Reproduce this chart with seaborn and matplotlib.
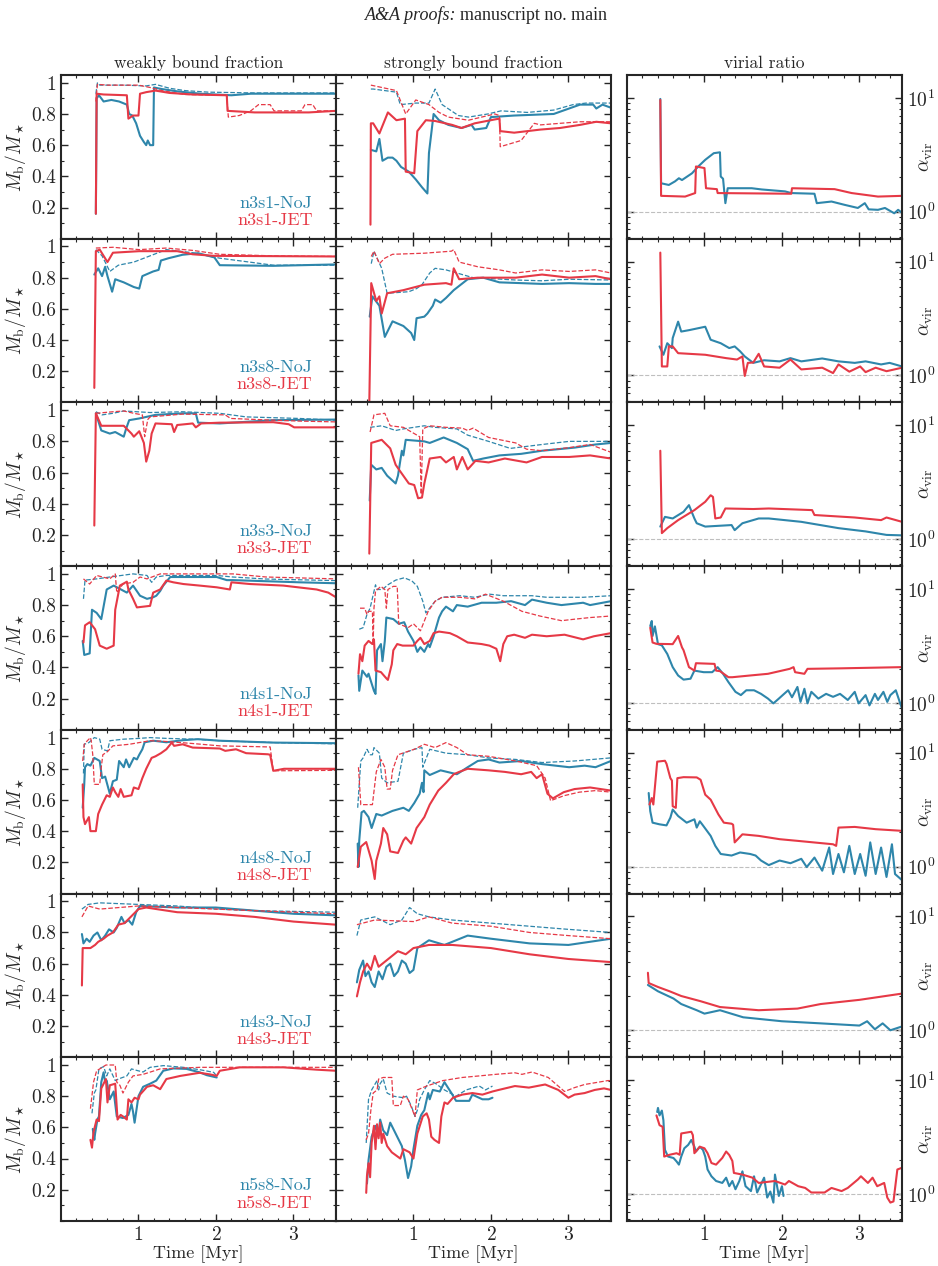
import matplotlib
matplotlib.use("Agg")
import matplotlib.pyplot as plt
import seaborn as sns
from matplotlib.ticker import MultipleLocator, FixedLocator, FixedFormatter, NullFormatter, LogLocator

# ==============================================================================
# DATA  (time [Myr], value)
# solid = bound fraction, _d = dashed companion curve
# ==============================================================================
runs = ["n3s1", "n3s8", "n3s3", "n4s1", "n4s8", "n4s3", "n5s8"]

# ---- n3s1 ----
n3s1_weak_noj = [(0.45,0.16),(0.46,0.90),(0.49,0.92),(0.55,0.88),(0.65,0.89),(0.75,0.88),(0.85,0.86),(0.88,0.80),(0.92,0.79),(0.97,0.74),(1.02,0.66),(1.07,0.62),(1.10,0.60),(1.12,0.63),(1.15,0.60),(1.19,0.60),(1.20,0.97),(1.3,0.96),(1.5,0.945),(1.8,0.93),(2.0,0.925),(2.2,0.92),(2.45,0.93),(3.0,0.93),(3.55,0.93)]
n3s1_weak_noj_d = [(0.45,0.93),(0.47,1.0),(0.5,0.985),(0.8,0.985),(1.1,0.98),(1.22,0.99),(1.4,0.965),(1.6,0.95),(1.9,0.94),(2.5,0.935),(3.55,0.935)]
n3s1_weak_jet = [(0.45,0.16),(0.46,0.93),(0.55,0.925),(0.85,0.92),(0.87,0.77),(0.93,0.79),(1.0,0.79),(1.02,0.93),(1.1,0.94),(1.22,0.95),(1.4,0.935),(1.7,0.925),(2.14,0.92),(2.15,0.82),(2.5,0.81),(3.0,0.81),(3.2,0.81),(3.55,0.82)]
n3s1_weak_jet_d = [(0.45,0.88),(0.47,0.99),(0.6,0.985),(1.0,0.985),(1.15,0.97),(1.3,0.95),(1.6,0.925),(2.14,0.92),(2.16,0.78),(2.3,0.79),(2.45,0.82),(2.55,0.86),(2.7,0.86),(2.75,0.82),(3.1,0.82),(3.15,0.86),(3.25,0.86),(3.3,0.82),(3.55,0.82)]
n3s1_strong_noj = [(0.45,0.57),(0.52,0.56),(0.56,0.64),(0.6,0.50),(0.67,0.52),(0.73,0.52),(0.78,0.50),(0.84,0.46),(0.94,0.43),(1.03,0.38),(1.11,0.33),(1.18,0.29),(1.2,0.55),(1.26,0.80),(1.33,0.76),(1.45,0.73),(1.62,0.71),(1.75,0.73),(1.79,0.70),(1.94,0.71),(2.0,0.78),(2.3,0.79),(2.81,0.80),(2.98,0.83),(3.15,0.86),(3.32,0.86),(3.36,0.835),(3.44,0.86),(3.55,0.84)]
n3s1_strong_noj_d = [(0.45,0.96),(0.48,0.96),(0.78,0.94),(0.83,0.86),(1.03,0.87),(1.2,0.87),(1.28,0.96),(1.37,0.86),(1.58,0.79),(1.71,0.78),(1.96,0.80),(2.13,0.82),(2.47,0.81),(2.81,0.825),(3.06,0.86),(3.23,0.87),(3.55,0.87)]
n3s1_strong_jet = [(0.445,0.09),(0.45,0.74),(0.48,0.74),(0.56,0.675),(0.67,0.81),(0.78,0.76),(0.89,0.77),(0.90,0.43),(1.01,0.42),(1.05,0.69),(1.16,0.76),(1.28,0.755),(1.50,0.73),(1.62,0.71),(1.79,0.74),(2.05,0.765),(2.11,0.77),(2.12,0.69),(2.3,0.68),(2.64,0.70),(2.89,0.71),(3.15,0.73),(3.36,0.75),(3.55,0.74)]
n3s1_strong_jet_d = [(0.45,0.985),(0.78,0.95),(0.90,0.80),(1.03,0.89),(1.2,0.86),(1.33,0.81),(1.45,0.78),(1.71,0.76),(2.05,0.80),(2.11,0.79),(2.12,0.59),(2.39,0.63),(2.56,0.74),(2.64,0.73),(2.89,0.74),(3.15,0.75),(3.55,0.75)]
n3s1_avir_noj = [(0.43,9.8),(0.44,1.78),(0.54,1.72),(0.62,1.85),(0.67,1.97),(0.71,1.9),(0.84,2.18),(0.92,2.5),(1.01,2.86),(1.12,3.27),(1.2,3.33),(1.21,2.04),(1.24,1.95),(1.27,1.19),(1.3,1.61),(1.61,1.61),(1.74,1.57),(2.04,1.51),(2.12,1.46),(2.42,1.44),(2.45,1.19),(2.64,1.23),(2.81,1.15),(2.98,1.08),(3.07,1.19),(3.12,1.05),(3.24,1.04),(3.33,1.08),(3.45,0.97),(3.5,1.04),(3.55,0.98)]
n3s1_avir_jet = [(0.43,9.6),(0.44,1.38),(0.75,1.36),(0.88,1.46),(0.89,2.5),(1.0,2.42),(1.02,1.61),(1.16,1.58),(1.17,1.46),(2.12,1.44),(2.13,1.61),(2.68,1.58),(2.9,1.46),(3.24,1.36),(3.55,1.38)]

# ---- n3s8 ----
n3s8_weak_noj = [(0.43,0.82),(0.48,0.86),(0.53,0.81),(0.57,0.87),(0.6,0.81),(0.66,0.71),(0.70,0.79),(0.81,0.77),(0.94,0.74),(1.01,0.73),(1.05,0.81),(1.19,0.84),(1.26,0.85),(1.29,0.91),(1.39,0.925),(1.57,0.947),(1.77,0.957),(1.98,0.93),(2.05,0.88),(2.74,0.876),(3.55,0.885)]
n3s8_weak_noj_d = [(0.45,0.98),(0.53,0.94),(0.63,0.84),(0.74,0.88),(0.94,0.90),(1.15,0.94),(1.36,0.98),(1.7,0.96),(2.05,0.925),(2.74,0.88),(3.55,0.88)]
n3s8_weak_jet = [(0.43,0.093),(0.45,0.97),(0.5,0.98),(0.6,0.90),(0.67,0.96),(1.01,0.97),(1.5,0.97),(1.7,0.95),(1.98,0.94),(3.55,0.936)]
n3s8_weak_jet_d = [(0.45,0.99),(0.67,0.995),(1.01,0.98),(1.36,0.99),(1.7,0.975),(2.05,0.95),(2.74,0.94),(3.55,0.936)]
n3s8_strong_noj = [(0.435,0.55),(0.47,0.68),(0.56,0.62),(0.63,0.42),(0.73,0.52),(0.87,0.49),(0.97,0.445),(1.01,0.40),(1.04,0.54),(1.14,0.55),(1.18,0.57),(1.25,0.62),(1.28,0.66),(1.35,0.64),(1.42,0.67),(1.52,0.72),(1.7,0.79),(1.9,0.80),(2.11,0.77),(2.39,0.765),(2.66,0.76),(3.01,0.765),(3.35,0.76),(3.55,0.76)]
n3s8_strong_noj_d = [(0.455,0.89),(0.49,0.97),(0.59,0.86),(0.66,0.70),(0.94,0.71),(1.04,0.73),(1.11,0.755),(1.21,0.83),(1.28,0.86),(1.42,0.85),(1.56,0.83),(1.77,0.80),(1.97,0.795),(2.32,0.785),(2.66,0.78),(3.01,0.79),(3.55,0.785)]
n3s8_strong_jet = [(0.43,0.0),(0.455,0.765),(0.52,0.65),(0.56,0.68),(0.59,0.57),(0.66,0.70),(0.87,0.72),(1.14,0.755),(1.42,0.765),(1.49,0.755),(1.52,0.86),(1.59,0.79),(1.83,0.80),(2.32,0.80),(2.66,0.82),(3.01,0.80),(3.35,0.81),(3.55,0.79)]
n3s8_strong_jet_d = [(0.455,0.936),(0.49,0.97),(0.56,0.89),(0.63,0.925),(0.73,0.95),(1.14,0.957),(1.49,0.97),(1.52,0.98),(1.59,0.90),(1.83,0.87),(2.11,0.85),(2.32,0.83),(2.66,0.85),(3.01,0.84),(3.35,0.85),(3.55,0.83)]
n3s8_avir_noj = [(0.42,1.8),(0.47,1.52),(0.52,1.92),(0.58,1.74),(0.59,2.13),(0.66,2.97),(0.70,2.43),(0.8,2.5),(1.01,2.68),(1.08,2.06),(1.21,1.92),(1.32,1.74),(1.39,1.8),(1.46,1.63),(1.52,1.47),(1.63,1.29),(1.77,1.36),(1.97,1.33),(2.11,1.42),(2.25,1.33),(2.52,1.41),(2.73,1.33),(2.94,1.29),(3.08,1.33),(3.28,1.25),(3.39,1.29),(3.55,1.2)]
n3s8_avir_jet = [(0.43,12.0),(0.45,1.2),(0.52,1.2),(0.54,1.8),(0.59,1.8),(0.66,1.57),(1.01,1.52),(1.28,1.42),(1.42,1.38),(1.49,1.47),(1.52,0.99),(1.56,1.29),(1.63,1.3),(1.7,1.55),(1.77,1.2),(1.97,1.17),(2.11,1.38),(2.25,1.13),(2.52,1.17),(2.66,1.05),(2.73,1.25),(2.87,1.08),(3.01,1.2),(3.08,1.07),(3.21,1.17),(3.35,1.09),(3.55,1.17)]

# ---- n3s3 ----
n3s3_weak_noj = [(0.45,0.98),(0.52,0.87),(0.63,0.85),(0.70,0.86),(0.81,0.83),(0.84,0.88),(0.88,0.936),(1.01,0.947),(1.22,0.97),(1.57,0.98),(1.74,0.98),(1.77,0.92),(2.05,0.915),(2.74,0.936),(3.55,0.94)]
n3s3_weak_noj_d = [(0.45,0.99),(0.53,0.97),(0.67,0.98),(0.81,0.995),(1.15,0.985),(1.57,0.99),(2.05,0.98),(2.39,0.957),(3.08,0.947),(3.55,0.936)]
n3s3_weak_jet = [(0.43,0.26),(0.45,0.98),(0.52,0.90),(0.81,0.90),(0.91,0.85),(0.94,0.83),(1.01,0.865),(1.07,0.79),(1.1,0.67),(1.14,0.74),(1.17,0.85),(1.22,0.915),(1.43,0.91),(1.46,0.86),(1.5,0.905),(1.7,0.915),(1.74,0.89),(1.81,0.915),(2.05,0.92),(2.74,0.923),(2.94,0.91),(3.01,0.89),(3.55,0.89)]
n3s3_weak_jet_d = [(0.45,0.98),(0.67,0.99),(0.81,0.995),(0.94,0.98),(1.05,0.97),(1.08,0.83),(1.12,0.94),(1.15,0.957),(1.57,0.975),(2.12,0.97),(2.19,0.947),(2.74,0.936),(3.08,0.93),(3.55,0.925)]
n3s3_strong_noj = [(0.435,0.42),(0.455,0.65),(0.52,0.62),(0.59,0.63),(0.66,0.58),(0.77,0.53),(0.8,0.58),(0.85,0.74),(0.87,0.71),(0.90,0.81),(1.14,0.80),(1.21,0.79),(1.39,0.825),(1.56,0.79),(1.7,0.75),(1.77,0.675),(1.9,0.69),(2.11,0.71),(2.39,0.72),(2.66,0.74),(3.08,0.76),(3.35,0.78),(3.55,0.79)]
n3s3_strong_noj_d = [(0.44,0.89),(0.59,0.90),(0.77,0.87),(0.87,0.88),(1.14,0.90),(1.28,0.89),(1.56,0.88),(1.7,0.84),(1.97,0.80),(2.25,0.755),(2.66,0.78),(3.01,0.80),(3.55,0.80)]
n3s3_strong_jet = [(0.43,0.08),(0.455,0.79),(0.59,0.81),(0.70,0.755),(0.77,0.65),(0.84,0.60),(0.94,0.53),(1.01,0.52),(1.06,0.435),(1.11,0.44),(1.14,0.53),(1.21,0.69),(1.35,0.70),(1.42,0.665),(1.52,0.70),(1.56,0.62),(1.63,0.70),(1.7,0.62),(1.8,0.675),(1.97,0.665),(2.18,0.69),(2.46,0.665),(2.66,0.70),(3.01,0.70),(3.28,0.71),(3.55,0.69)]
n3s3_strong_jet_d = [(0.44,0.86),(0.49,0.97),(0.63,0.98),(0.70,0.90),(0.87,0.89),(1.01,0.85),(1.08,0.83),(1.10,0.46),(1.12,0.88),(1.21,0.90),(1.42,0.89),(1.63,0.885),(1.7,0.87),(1.77,0.885),(1.97,0.825),(2.32,0.79),(2.46,0.75),(2.66,0.74),(3.01,0.76),(3.28,0.78),(3.55,0.73)]
n3s3_avir_noj = [(0.43,1.29),(0.49,1.57),(0.59,1.52),(0.73,1.74),(0.80,1.99),(0.87,1.52),(0.90,1.38),(1.01,1.29),(1.35,1.33),(1.39,1.2),(1.49,1.38),(1.7,1.52),(1.83,1.52),(2.25,1.42),(2.73,1.25),(3.08,1.17),(3.35,1.09),(3.55,1.08)]
n3s3_avir_jet = [(0.43,5.98),(0.45,1.13),(0.52,1.25),(0.66,1.47),(0.87,1.8),(1.01,2.13),(1.08,2.43),(1.11,2.35),(1.14,1.52),(1.21,1.55),(1.27,1.86),(1.63,1.84),(1.83,1.86),(2.39,1.8),(2.42,1.63),(2.94,1.55),(3.28,1.47),(3.35,1.55),(3.55,1.42)]

# ---- n4s1 ----
n4s1_weak_noj = [(0.28,0.57),(0.30,0.48),(0.37,0.49),(0.40,0.77),(0.46,0.75),(0.52,0.71),(0.59,0.90),(0.68,0.925),(0.85,0.88),(0.93,0.925),(1.02,0.86),(1.11,0.84),(1.19,0.85),(1.23,0.86),(1.28,0.89),(1.32,0.925),(1.41,0.98),(2.01,0.98),(2.14,0.96),(2.22,0.96),(3.08,0.946),(3.55,0.94)]
n4s1_weak_noj_d = [(0.29,0.84),(0.31,0.96),(0.46,0.968),(0.63,0.98),(0.93,1.0),(1.11,0.99),(1.17,0.946),(1.23,0.98),(1.36,0.99),(2.01,0.99),(2.22,0.98),(2.65,0.967),(3.55,0.957)]
n4s1_weak_jet = [(0.29,0.56),(0.31,0.67),(0.37,0.69),(0.44,0.645),(0.50,0.54),(0.59,0.52),(0.68,0.54),(0.70,0.77),(0.76,0.925),(0.85,0.95),(0.87,0.90),(0.93,0.84),(0.98,0.785),(1.15,0.795),(1.19,0.88),(1.28,0.90),(1.36,0.957),(1.45,0.946),(1.58,0.935),(1.79,0.925),(2.01,0.914),(2.18,0.90),(2.20,0.946),(2.44,0.935),(2.87,0.925),(3.3,0.90),(3.45,0.88),(3.55,0.85)]
n4s1_weak_jet_d = [(0.29,0.968),(0.37,0.935),(0.46,0.99),(0.63,0.968),(0.70,1.0),(0.72,0.88),(0.80,0.935),(0.93,0.946),(1.02,0.98),(1.11,0.968),(1.28,1.0),(2.22,1.0),(2.65,0.98),(3.55,0.968)]
n4s1_strong_noj = [(0.29,0.35),(0.30,0.25),(0.34,0.38),(0.40,0.34),(0.42,0.36),(0.49,0.25),(0.51,0.23),(0.53,0.51),(0.58,0.55),(0.60,0.44),(0.63,0.57),(0.65,0.72),(0.74,0.71),(0.81,0.68),(0.88,0.69),(0.93,0.63),(1.0,0.57),(1.05,0.50),(1.09,0.53),(1.14,0.50),(1.19,0.55),(1.21,0.53),(1.26,0.60),(1.33,0.72),(1.37,0.76),(1.42,0.79),(1.51,0.76),(1.56,0.80),(1.7,0.79),(1.88,0.815),(2.07,0.815),(2.26,0.825),(2.44,0.80),(2.53,0.835),(2.72,0.815),(2.91,0.80),(3.19,0.815),(3.28,0.80),(3.55,0.825)]
n4s1_strong_noj_d = [(0.30,0.645),(0.35,0.655),(0.40,0.74),(0.44,0.78),(0.51,0.93),(0.53,0.90),(0.60,0.90),(0.67,0.93),(0.77,0.96),(0.88,0.975),(0.98,0.955),(1.05,0.92),(1.12,0.825),(1.16,0.75),(1.28,0.825),(1.37,0.85),(1.6,0.86),(1.79,0.85),(1.98,0.87),(2.16,0.86),(2.53,0.86),(2.72,0.85),(3.19,0.85),(3.55,0.86)]
n4s1_strong_jet = [(0.29,0.36),(0.31,0.485),(0.34,0.44),(0.37,0.54),(0.42,0.57),(0.47,0.55),(0.49,0.58),(0.51,0.38),(0.58,0.37),(0.65,0.33),(0.67,0.32),(0.72,0.42),(0.74,0.51),(0.79,0.55),(0.86,0.54),(1.0,0.54),(1.05,0.57),(1.09,0.59),(1.14,0.55),(1.21,0.57),(1.26,0.62),(1.33,0.63),(1.47,0.62),(1.56,0.60),(1.7,0.56),(1.88,0.55),(1.98,0.54),(2.07,0.52),(2.12,0.44),(2.16,0.55),(2.21,0.60),(2.3,0.61),(2.44,0.59),(2.53,0.61),(2.72,0.60),(2.95,0.61),(3.19,0.58),(3.33,0.60),(3.55,0.62)]
n4s1_strong_jet_d = [(0.31,0.78),(0.37,0.78),(0.40,0.74),(0.42,0.76),(0.47,0.76),(0.48,0.55),(0.49,0.78),(0.51,0.89),(0.58,0.92),(0.63,0.90),(0.65,0.78),(0.67,0.90),(0.74,0.92),(0.79,0.92),(0.81,0.68),(0.93,0.655),(1.0,0.68),(1.09,0.635),(1.19,0.76),(1.28,0.825),(1.37,0.85),(1.6,0.85),(1.79,0.84),(1.93,0.87),(2.16,0.825),(2.4,0.76),(2.63,0.73),(2.91,0.70),(3.09,0.71),(3.28,0.72),(3.55,0.73)]
n4s1_avir_noj = [(0.30,4.73),(0.32,5.24),(0.33,3.87),(0.36,4.7),(0.40,3.28),(0.45,3.2),(0.52,2.69),(0.59,2.06),(0.66,1.74),(0.73,1.6),(0.82,1.63),(0.87,1.92),(0.99,1.86),(1.10,1.86),(1.17,2.06),(1.24,1.8),(1.31,1.52),(1.40,1.25),(1.47,1.17),(1.54,1.29),(1.64,1.29),(1.73,1.2),(1.82,1.09),(1.89,0.99),(1.96,1.09),(2.01,1.17),(2.08,1.29),(2.13,1.12),(2.2,1.38),(2.24,1.02),(2.29,1.33),(2.33,0.99),(2.38,1.25),(2.47,1.09),(2.57,1.2),(2.66,1.13),(2.75,1.2),(2.85,1.06),(2.94,1.25),(2.99,0.99),(3.08,1.17),(3.13,0.95),(3.2,1.2),(3.24,1.06),(3.31,1.25),(3.36,1.02),(3.4,1.17),(3.47,1.29),(3.55,0.89)]
n4s1_avir_jet = [(0.30,4.58),(0.33,3.39),(0.38,3.3),(0.59,3.28),(0.66,3.87),(0.71,3.07),(0.73,2.9),(0.8,2.06),(0.87,1.92),(0.89,2.23),(1.13,2.2),(1.15,1.92),(1.2,1.9),(1.31,1.68),(1.36,1.68),(1.59,1.74),(1.82,1.8),(2.10,1.99),(2.15,2.06),(2.17,1.86),(2.29,1.8),(2.33,1.99),(2.75,2.01),(3.55,2.06)]

# ---- n4s8 ----
n4s8_weak_noj = [(0.28,0.55),(0.30,0.70),(0.31,0.81),(0.34,0.83),(0.38,0.82),(0.43,0.87),(0.50,0.85),(0.53,0.74),(0.57,0.75),(0.63,0.64),(0.67,0.72),(0.72,0.73),(0.75,0.85),(0.81,0.81),(0.84,0.86),(0.88,0.81),(0.94,0.87),(0.98,0.86),(1.01,0.89),(1.05,0.925),(1.08,0.97),(1.19,0.98),(1.36,0.97),(1.57,0.983),(1.77,0.99),(2.05,0.98),(2.74,0.968),(3.55,0.964)]
n4s8_weak_noj_d = [(0.29,0.77),(0.30,0.957),(0.36,0.968),(0.43,1.0),(0.50,0.99),(0.53,0.925),(0.6,0.915),(0.63,0.98),(0.81,0.99),(1.01,0.995),(1.15,1.0),(1.36,0.995),(1.70,0.99),(2.05,0.98),(2.74,0.968),(3.55,0.96)]
n4s8_weak_jet = [(0.28,0.70),(0.29,0.49),(0.31,0.445),(0.36,0.49),(0.38,0.40),(0.45,0.40),(0.48,0.51),(0.53,0.57),(0.59,0.63),(0.63,0.62),(0.67,0.68),(0.70,0.65),(0.74,0.62),(0.77,0.67),(0.81,0.62),(0.91,0.63),(0.94,0.68),(1.0,0.67),(1.05,0.74),(1.10,0.80),(1.17,0.87),(1.22,0.88),(1.29,0.90),(1.36,0.925),(1.43,0.968),(1.46,0.947),(1.57,0.957),(1.70,0.936),(2.05,0.93),(2.12,0.915),(2.26,0.925),(2.39,0.90),(2.67,0.893),(2.70,0.89),(2.74,0.787),(2.88,0.80),(3.55,0.80)]
n4s8_weak_jet_d = [(0.28,0.85),(0.30,0.957),(0.34,0.98),(0.38,1.0),(0.39,0.98),(0.41,0.89),(0.43,0.70),(0.50,0.70),(0.52,0.81),(0.54,0.89),(0.60,0.91),(0.67,0.947),(0.88,0.957),(1.15,0.98),(1.36,0.975),(1.70,0.962),(2.05,0.947),(2.70,0.94),(2.74,0.787),(3.55,0.79)]
n4s8_strong_noj = [(0.28,0.32),(0.29,0.17),(0.30,0.34),(0.33,0.52),(0.36,0.53),(0.42,0.49),(0.46,0.42),(0.52,0.51),(0.59,0.50),(0.73,0.53),(0.87,0.55),(0.94,0.53),(1.01,0.58),(1.08,0.64),(1.11,0.71),(1.13,0.65),(1.14,0.79),(1.21,0.76),(1.35,0.79),(1.56,0.765),(1.7,0.81),(1.83,0.85),(1.97,0.86),(2.11,0.84),(2.39,0.85),(2.66,0.83),(3.01,0.81),(3.21,0.82),(3.35,0.81),(3.55,0.85)]
n4s8_strong_noj_d = [(0.28,0.55),(0.32,0.85),(0.35,0.87),(0.40,0.925),(0.44,0.89),(0.47,0.89),(0.49,0.936),(0.56,0.90),(0.59,0.74),(0.66,0.71),(0.8,0.72),(0.87,0.90),(1.01,0.925),(1.11,0.936),(1.12,0.81),(1.21,0.925),(1.42,0.90),(1.7,0.89),(1.97,0.87),(2.32,0.86),(2.66,0.84),(3.08,0.85),(3.55,0.87)]
n4s8_strong_jet = [(0.28,0.17),(0.32,0.30),(0.39,0.33),(0.46,0.21),(0.50,0.093),(0.52,0.21),(0.58,0.32),(0.61,0.42),(0.66,0.38),(0.70,0.27),(0.8,0.26),(0.87,0.34),(0.90,0.36),(0.97,0.32),(1.04,0.42),(1.14,0.49),(1.21,0.57),(1.32,0.66),(1.42,0.71),(1.52,0.765),(1.59,0.78),(1.7,0.80),(1.97,0.79),(2.18,0.78),(2.39,0.765),(2.52,0.78),(2.59,0.74),(2.66,0.765),(2.73,0.64),(2.8,0.61),(2.94,0.65),(3.08,0.67),(3.28,0.68),(3.55,0.66)]
n4s8_strong_jet_d = [(0.29,0.81),(0.32,0.57),(0.39,0.57),(0.47,0.57),(0.52,0.78),(0.58,0.86),(0.63,0.81),(0.66,0.67),(0.70,0.67),(0.73,0.79),(0.8,0.89),(1.01,0.925),(1.14,0.957),(1.28,0.936),(1.42,0.968),(1.56,0.936),(1.7,0.89),(1.97,0.88),(2.32,0.85),(2.59,0.82),(2.70,0.74),(2.77,0.595),(2.94,0.627),(3.14,0.65),(3.35,0.66),(3.55,0.65)]
n4s8_avir_noj = [(0.28,4.43),(0.30,3.07),(0.33,2.43),(0.42,2.35),(0.51,2.3),(0.56,2.69),(0.59,3.17),(0.66,2.78),(0.77,2.43),(0.87,2.6),(0.90,2.2),(0.94,2.5),(0.97,2.35),(1.08,1.86),(1.14,1.52),(1.21,1.29),(1.35,1.25),(1.46,1.33),(1.59,1.29),(1.66,1.25),(1.73,1.13),(1.83,1.03),(1.97,1.13),(2.11,1.07),(2.25,1.17),(2.32,0.99),(2.42,1.2),(2.52,0.92),(2.61,1.47),(2.66,0.86),(2.73,1.29),(2.8,0.89),(2.87,1.52),(2.94,0.86),(3.01,1.29),(3.08,0.83),(3.14,1.63),(3.21,0.86),(3.28,1.47),(3.35,0.81),(3.42,1.57),(3.46,0.86),(3.55,0.76)]
n4s8_avir_jet = [(0.29,3.51),(0.32,4.0),(0.34,3.51),(0.39,8.35),(0.49,8.5),(0.51,8.0),(0.56,5.98),(0.58,5.7),(0.59,3.39),(0.63,3.28),(0.65,5.98),(0.73,6.1),(0.90,6.07),(0.95,5.79),(1.01,4.28),(1.08,3.87),(1.18,2.87),(1.25,2.43),(1.35,2.38),(1.37,2.33),(1.39,1.63),(1.49,1.92),(1.7,1.86),(1.97,1.74),(2.21,1.68),(2.66,1.57),(2.70,1.52),(2.73,2.2),(2.94,2.23),(3.21,2.13),(3.55,2.06)]

# ---- n4s3 ----
n4s3_weak_noj = [(0.27,0.79),(0.29,0.73),(0.33,0.76),(0.37,0.74),(0.42,0.78),(0.47,0.80),(0.52,0.75),(0.57,0.78),(0.62,0.82),(0.68,0.80),(0.72,0.83),(0.78,0.90),(0.82,0.86),(0.87,0.88),(0.92,0.85),(0.97,0.93),(1.02,0.97),(1.5,0.96),(2.0,0.96),(2.5,0.94),(3.0,0.92),(3.55,0.91)]
n4s3_weak_noj_d = [(0.27,0.95),(0.35,0.98),(0.5,0.99),(1.0,0.98),(1.5,0.97),(2.0,0.95),(2.5,0.94),(3.55,0.93)]
n4s3_weak_jet = [(0.27,0.46),(0.28,0.70),(0.38,0.70),(0.44,0.72),(0.48,0.74),(0.55,0.76),(0.60,0.78),(0.67,0.80),(0.74,0.85),(0.82,0.86),(0.9,0.9),(1.0,0.95),(1.1,0.96),(1.5,0.93),(2.0,0.92),(2.5,0.9),(3.0,0.87),(3.55,0.85)]
n4s3_weak_jet_d = [(0.27,0.9),(0.35,0.97),(0.5,0.95),(1.0,0.97),(1.5,0.96),(2.5,0.94),(3.55,0.92)]
n4s3_strong_noj = [(0.27,0.48),(0.3,0.56),(0.35,0.62),(0.38,0.52),(0.42,0.55),(0.46,0.48),(0.5,0.45),(0.55,0.55),(0.6,0.5),(0.65,0.58),(0.7,0.6),(0.75,0.52),(0.8,0.55),(0.85,0.62),(0.9,0.6),(0.95,0.54),(1.0,0.56),(1.05,0.7),(1.2,0.75),(1.4,0.72),(1.7,0.78),(2.0,0.76),(2.5,0.73),(3.0,0.72),(3.55,0.76)]
n4s3_strong_noj_d = [(0.27,0.78),(0.32,0.88),(0.5,0.9),(0.7,0.85),(0.85,0.88),(0.95,0.96),(1.05,0.92),(1.2,0.9),(1.5,0.88),(2.0,0.86),(2.5,0.84),(3.0,0.82),(3.55,0.8)]
n4s3_strong_jet = [(0.27,0.39),(0.31,0.48),(0.35,0.55),(0.4,0.6),(0.45,0.56),(0.5,0.65),(0.55,0.58),(0.6,0.6),(0.7,0.64),(0.8,0.68),(0.9,0.66),(1.0,0.7),(1.2,0.72),(1.5,0.72),(2.0,0.7),(2.5,0.66),(3.0,0.63),(3.55,0.61)]
n4s3_strong_jet_d = [(0.27,0.85),(0.5,0.88),(1.0,0.87),(1.2,0.9),(1.5,0.86),(2.0,0.84),(2.5,0.8),(3.0,0.78),(3.55,0.76)]
n4s3_avir_noj = [(0.27,2.5),(0.4,2.2),(0.6,1.9),(0.7,1.7),(0.9,1.5),(1.0,1.4),(1.2,1.5),(1.5,1.3),(2.0,1.2),(2.5,1.15),(3.0,1.1),(3.1,1.2),(3.2,1.02),(3.3,1.15),(3.4,1.0),(3.55,1.08)]
n4s3_avir_jet = [(0.27,3.2),(0.28,2.6),(0.4,2.4),(0.55,2.2),(0.7,2.0),(0.95,1.8),(1.2,1.6),(1.7,1.5),(2.2,1.55),(2.5,1.7),(3.0,1.85),(3.55,2.1)]

# ---- n5s8 ----
n5s8_weak_noj = [(0.41,0.59),(0.43,0.52),(0.44,0.56),(0.47,0.65),(0.49,0.67),(0.52,0.89),(0.55,0.953),(0.57,0.89),(0.59,0.90),(0.63,0.78),(0.68,0.83),(0.72,0.67),(0.80,0.66),(0.87,0.68),(0.91,0.75),(0.93,0.70),(0.95,0.63),(1.0,0.80),(1.06,0.86),(1.15,0.88),(1.23,0.90),(1.32,0.963),(1.45,0.978),(1.62,0.975),(1.79,0.953),(1.88,0.935),(2.01,0.92)]
n5s8_weak_noj_d = [(0.40,0.69),(0.43,0.82),(0.45,0.84),(0.49,0.975),(0.55,0.99),(0.59,0.93),(0.63,0.975),(0.70,0.90),(0.74,0.91),(0.85,0.93),(0.91,0.975),(0.98,0.965),(1.06,0.955),(1.15,0.985),(1.32,0.996),(1.58,0.985),(1.79,0.97),(1.97,0.953),(2.01,0.93)]
n5s8_weak_jet = [(0.38,0.52),(0.40,0.47),(0.42,0.57),(0.46,0.65),(0.49,0.64),(0.52,0.85),(0.58,0.91),(0.60,0.76),(0.63,0.87),(0.70,0.88),(0.73,0.65),(0.77,0.68),(0.80,0.67),(0.85,0.65),(0.87,0.78),(0.91,0.76),(0.95,0.79),(1.0,0.78),(1.02,0.81),(1.11,0.86),(1.19,0.87),(1.28,0.845),(1.36,0.91),(1.54,0.93),(1.79,0.95),(1.92,0.94),(2.01,0.93),(2.05,0.963),(2.31,0.985),(2.87,0.985),(3.3,0.97),(3.55,0.963)]
n5s8_weak_jet_d = [(0.38,0.72),(0.42,0.89),(0.46,0.963),(0.50,0.975),(0.58,1.0),(0.70,1.0),(0.72,0.89),(0.76,0.87),(0.80,0.82),(0.87,0.89),(0.93,0.93),(1.06,0.94),(1.28,0.975),(1.79,0.985),(3.55,0.985)]
n5s8_strong_noj = [(0.40,0.24),(0.42,0.39),(0.46,0.54),(0.51,0.61),(0.53,0.57),(0.55,0.55),(0.57,0.65),(0.61,0.58),(0.66,0.55),(0.70,0.63),(0.74,0.59),(0.78,0.55),(0.85,0.48),(0.89,0.39),(0.93,0.275),(0.97,0.35),(1.0,0.46),(1.05,0.61),(1.10,0.68),(1.14,0.71),(1.19,0.82),(1.21,0.78),(1.25,0.84),(1.34,0.83),(1.40,0.89),(1.49,0.82),(1.55,0.77),(1.72,0.77),(1.76,0.81),(1.89,0.78),(1.97,0.78),(2.02,0.79)]
n5s8_strong_noj_d = [(0.39,0.5),(0.42,0.78),(0.46,0.84),(0.53,0.9),(0.55,0.84),(0.57,0.88),(0.61,0.91),(0.66,0.82),(0.74,0.80),(0.87,0.79),(0.91,0.80),(0.97,0.74),(1.02,0.67),(1.05,0.71),(1.08,0.78),(1.14,0.84),(1.21,0.90),(1.29,0.88),(1.40,0.84),(1.55,0.80),(1.68,0.84),(1.85,0.865),(1.93,0.84),(2.02,0.865)]
n5s8_strong_jet = [(0.39,0.18),(0.40,0.29),(0.42,0.37),(0.44,0.28),(0.46,0.5),(0.49,0.61),(0.51,0.46),(0.53,0.62),(0.55,0.53),(0.57,0.63),(0.59,0.50),(0.61,0.56),(0.66,0.48),(0.72,0.44),(0.83,0.40),(0.87,0.46),(0.95,0.44),(1.0,0.40),(1.05,0.56),(1.12,0.67),(1.17,0.69),(1.2,0.65),(1.23,0.54),(1.27,0.52),(1.33,0.50),(1.36,0.67),(1.40,0.76),(1.44,0.75),(1.51,0.79),(1.63,0.81),(1.76,0.82),(1.89,0.81),(2.02,0.83),(2.1,0.84),(2.31,0.865),(2.49,0.855),(2.70,0.875),(2.87,0.84),(3.0,0.79),(3.08,0.81),(3.21,0.82),(3.34,0.84),(3.46,0.85),(3.55,0.84)]
n5s8_strong_jet_d = [(0.39,0.52),(0.42,0.56),(0.45,0.71),(0.48,0.82),(0.53,0.84),(0.55,0.91),(0.61,0.92),(0.72,0.92),(0.74,0.74),(0.83,0.74),(0.87,0.80),(0.93,0.78),(1.02,0.67),(1.05,0.84),(1.17,0.865),(1.38,0.90),(1.63,0.92),(1.85,0.93),(2.06,0.94),(2.31,0.95),(2.4,0.94),(2.53,0.955),(2.74,0.92),(2.95,0.83),(3.08,0.855),(3.21,0.875),(3.51,0.9),(3.55,0.9)]
n5s8_avir_noj = [(0.39,5.25),(0.40,5.7),(0.42,4.9),(0.45,5.4),(0.47,4.44),(0.49,2.44),(0.53,2.13),(0.60,2.07),(0.64,1.93),(0.67,1.81),(0.70,2.13),(0.74,2.52),(0.79,2.7),(0.83,2.98),(0.87,2.6),(0.89,2.36),(0.94,2.6),(0.98,2.44),(1.01,2.13),(1.04,1.64),(1.09,1.43),(1.15,1.3),(1.23,1.25),(1.28,1.39),(1.32,1.17),(1.36,1.3),(1.40,1.1),(1.45,1.3),(1.49,1.58),(1.53,1.17),(1.60,1.06),(1.64,1.43),(1.68,1.03),(1.77,1.39),(1.81,0.93),(1.85,1.05),(1.89,0.84),(1.91,1.48),(1.96,0.96),(2.0,1.17),(2.02,0.96)]
n5s8_avir_jet = [(0.38,4.9),(0.42,4.02),(0.46,3.89),(0.48,2.13),(0.55,2.21),(0.64,2.28),(0.68,2.21),(0.70,3.4),(0.83,3.52),(0.85,3.29),(0.87,2.28),(0.94,2.6),(1.0,2.52),(1.04,2.28),(1.09,1.87),(1.15,1.81),(1.23,2.07),(1.28,2.36),(1.32,2.2),(1.36,1.95),(1.38,1.53),(1.49,1.48),(1.62,1.39),(1.70,1.25),(1.91,1.3),(2.04,1.21),(2.09,1.3),(2.21,1.17),(2.3,1.13),(2.38,1.03),(2.55,1.03),(2.64,1.13),(2.77,1.06),(2.85,1.13),(2.98,1.34),(3.02,1.43),(3.11,1.25),(3.17,1.39),(3.23,1.17),(3.32,1.25),(3.36,0.93),(3.40,0.84),(3.44,0.86),(3.49,1.64),(3.55,1.7)]

col_titles = ["weakly bound fraction", "strongly bound fraction", "virial ratio"]
frac_ticks = [0.2, 0.4, 0.6, 0.8, 1.0]
frac_labels = ["0.2", "0.4", "0.6", "0.8", "1"]
time_ticks = [1, 2, 3]

# ==============================================================================
# STYLE
# ==============================================================================
sns.set_style("ticks")
plt.rcParams["font.family"] = "serif"
plt.rcParams["font.serif"] = ["cmr10", "DejaVu Serif"]
plt.rcParams["mathtext.fontset"] = "cm"
plt.rcParams["axes.formatter.use_mathtext"] = True
plt.rcParams["axes.unicode_minus"] = False

BLUE = "#2e86ab"
RED = "#e63946"
W, H = 938, 1266
ROW_TOP, ROW_H = 75, 163.7
COLS = [(61, 336), (336, 611), (627, 902)]


def caixa(col, row):
    x0, x1 = COLS[col]
    y0 = ROW_TOP + row * ROW_H
    return [x0 / W, 1 - (y0 + ROW_H) / H, (x1 - x0) / W, ROW_H / H]


def desenha(ax, pts, cor, tracejado=False):
    t = [p[0] for p in pts]
    v = [p[1] for p in pts]
    sns.lineplot(x=t, y=v, ax=ax, color=cor, sort=False, estimator=None,
                 linewidth=0.9 if tracejado else 1.5,
                 linestyle="--" if tracejado else "-")


def estilo_eixo(ax, bottom_labels):
    ax.set_xlim(0, 3.55)
    ax.xaxis.set_major_locator(FixedLocator(time_ticks))
    ax.xaxis.set_minor_locator(MultipleLocator(0.2))
    ax.tick_params(which="both", direction="in", top=True, right=True,
                   labelsize=14, labelbottom=bottom_labels)
    ax.tick_params(which="major", length=5, width=1)
    ax.tick_params(which="minor", length=2.5, width=0.8)
    for s in ax.spines.values():
        s.set_linewidth(1.5)
    ax.set_xlabel("Time [Myr]" if bottom_labels else "", fontsize=13, labelpad=1)
    ax.set_ylabel("")


fig = plt.figure(figsize=(W / 100, H / 100), dpi=100)

for i, run in enumerate(runs):
    g = globals()
    ultima = i == len(runs) - 1

    # colunas 1 e 2: fracoes ligadas
    for j, painel in enumerate(["weak", "strong"]):
        ax = fig.add_axes(caixa(j, i))
        desenha(ax, g[f"{run}_{painel}_noj_d"], BLUE, True)
        desenha(ax, g[f"{run}_{painel}_noj"], BLUE)
        desenha(ax, g[f"{run}_{painel}_jet_d"], RED, True)
        desenha(ax, g[f"{run}_{painel}_jet"], RED)
        estilo_eixo(ax, ultima)
        ax.set_ylim(0, 1.05)
        ax.yaxis.set_major_locator(FixedLocator(frac_ticks))
        ax.yaxis.set_major_formatter(FixedFormatter(frac_labels))
        ax.yaxis.set_minor_locator(MultipleLocator(0.1))
        if j == 0:
            ax.set_ylabel(r"$M_{\rm b}/M_\star$", fontsize=14)
            ax.yaxis.set_label_coords(-0.12, 0.5)
            ax.text(0.915, 0.215, f"{run}-NoJ", color=BLUE, fontsize=13,
                    ha="right", va="center", transform=ax.transAxes)
            ax.text(0.915, 0.11, f"{run}-JET", color=RED, fontsize=13,
                    ha="right", va="center", transform=ax.transAxes)
        else:
            ax.tick_params(labelleft=False)
        if i == 0:
            ax.set_title(col_titles[j], fontsize=12.5, pad=5)

    # coluna 3: razao virial
    ax = fig.add_axes(caixa(2, i))
    ax.set_yscale("log")
    ax.axhline(1.0, color="0.75", linestyle="--", linewidth=0.8)
    desenha(ax, g[f"{run}_avir_noj"], BLUE)
    desenha(ax, g[f"{run}_avir_jet"], RED)
    estilo_eixo(ax, ultima)
    ax.set_ylim(0.58, 15.9)
    ax.yaxis.set_major_locator(LogLocator(base=10))
    ax.yaxis.set_minor_locator(LogLocator(base=10, subs=range(2, 10)))
    ax.yaxis.set_minor_formatter(NullFormatter())
    ax.tick_params(labelleft=False, labelright=True)
    ax.set_ylabel(r"$\alpha_{\rm vir}$", fontsize=14)
    ax.yaxis.set_label_position("right")
    ax.yaxis.set_label_coords(1.055, 0.5)
    if i == 0:
        ax.set_title(col_titles[2], fontsize=12.5, pad=5)

# cabecalho da pagina
fig.text(456 / W, 1 - 15 / H, "A&A proofs:", family="Liberation Serif",
         style="italic", fontsize=13, ha="right", va="center")
fig.text(460 / W, 1 - 15 / H, "manuscript no. main", family="Liberation Serif",
         fontsize=13, ha="left", va="center")

fig.savefig("out.png", dpi=100)
